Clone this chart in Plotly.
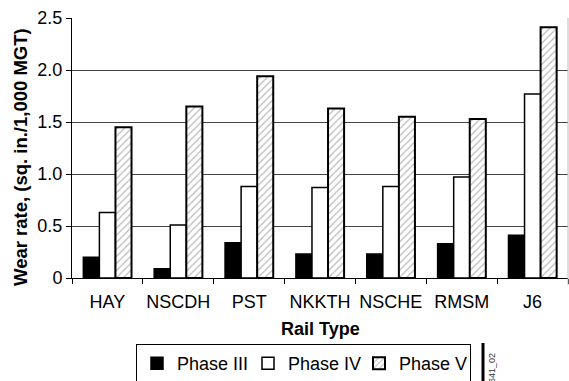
import plotly.graph_objects as go

categories = ["HAY", "NSCDH", "PST", "NKKTH", "NSCHE", "RMSM", "J6"]
phase_iii = [0.20, 0.09, 0.34, 0.23, 0.23, 0.33, 0.41]
phase_iv = [0.63, 0.51, 0.88, 0.87, 0.88, 0.97, 1.77]
phase_v = [1.45, 1.65, 1.94, 1.63, 1.55, 1.53, 2.41]
y_ticks = [0, 0.5, 1.0, 1.5, 2.0, 2.5]
y_ticktext = ["0", "0.5", "1.0", "1.5", "2.0", "2.5"]

FONT = "Liberation Sans, Arial, sans-serif"

L, R, T, B = 72, 568, 18, 278
W_PLOT, H_PLOT = R - L, B - T

def px_x(x):
    return (x - L) / W_PLOT

def px_y(y):
    return (B - y) / H_PLOT

fig = go.Figure()
fig.add_trace(go.Bar(name="Phase III", x=categories, y=phase_iii,
                     marker=dict(color="black", line=dict(color="black", width=1.5))))
fig.add_trace(go.Bar(name="Phase IV", x=categories, y=phase_iv,
                     marker=dict(color="white", line=dict(color="black", width=1.5))))
fig.add_trace(go.Bar(name="Phase V", x=categories, y=phase_v,
                     marker=dict(color="white", line=dict(color="black", width=2),
                                 pattern=dict(shape="/", fgcolor="#777777", bgcolor="white",
                                              size=5, solidity=0.25, fillmode="overlay"))))

fig.update_layout(
    width=569, height=381,
    margin=dict(l=L, r=569 - R, t=T, b=381 - B, autoexpand=False),
    paper_bgcolor="white", plot_bgcolor="white",
    font=dict(family=FONT, color="black", size=18),
    barmode="group", bargap=0.32, bargroupgap=0,
    showlegend=True,
    legend=dict(orientation="h", x=px_x(136), xanchor="left", y=px_y(344), yanchor="top",
                bordercolor="black", borderwidth=1, font=dict(size=18),
                entrywidth=66, entrywidthmode="pixels", traceorder="normal"),
    xaxis=dict(showline=True, linecolor="black", linewidth=1,
               ticks="outside", ticklen=5, tickcolor="black", tickangle=0,
               tickson="boundaries", showgrid=False, automargin=False,
               tickfont=dict(size=18), ticklabelstandoff=7),
    yaxis=dict(range=[0, 2.5], tickvals=y_ticks, ticktext=y_ticktext,
               showline=True, linecolor="black", linewidth=1,
               ticks="outside", ticklen=5, tickcolor="black",
               showgrid=True, gridcolor="#444444", gridwidth=1,
               tickfont=dict(size=18), zeroline=False, automargin=False),
)

fig.add_annotation(text="<b>Wear rate, (sq. in./1,000 MGT)</b>", xref="paper", yref="paper",
                   x=px_x(20), y=px_y(157), textangle=-90, showarrow=False,
                   font=dict(size=18.5, color="black"), xanchor="center", yanchor="middle")
fig.add_annotation(text="<b>Rail Type</b>", xref="paper", yref="paper",
                   x=px_x(320), y=px_y(329), showarrow=False,
                   font=dict(size=18, color="black"), xanchor="center", yanchor="middle")

fig.add_shape(type="line", xref="paper", yref="paper", x0=1.0, x1=1.0, y0=1.0, y1=px_y(285),
              line=dict(color="#bbbbbb", width=1))
fig.add_shape(type="line", xref="paper", yref="paper", x0=px_x(483), x1=px_x(483),
              y0=px_y(343), y1=px_y(381), line=dict(color="black", width=3))
fig.add_annotation(text="1641_02", xref="paper", yref="paper", x=px_x(492), y=px_y(371),
                   textangle=-90, showarrow=False, font=dict(size=9, color="#333333"),
                   xanchor="center", yanchor="middle")

fig.write_html("out.html", config={"displayModeBar": False},
               post_script="document.body.style.margin='0';")
